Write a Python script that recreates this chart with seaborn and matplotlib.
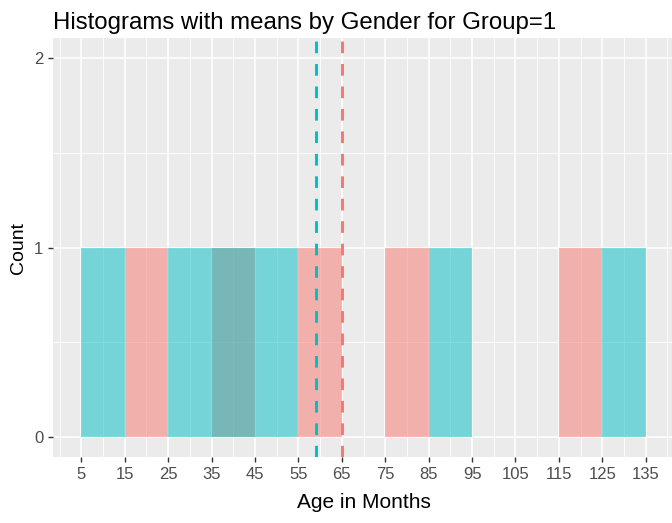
import pandas as pd
import seaborn as sns
import matplotlib.pyplot as plt
from matplotlib.ticker import MultipleLocator

# ages (months), one per bar
female_ages = [18, 42, 62, 80, 123]
male_ages = [10, 30, 40, 52, 92, 130]
genders = ['F', 'M']
bin_edges = list(range(5, 136, 10))
x_ticks = list(range(5, 136, 10))
y_ticks = [0, 1, 2]

df = pd.DataFrame({'Age': female_ages + male_ages,
                   'Gender': ['F'] * len(female_ages) + ['M'] * len(male_ages)})
means = df.groupby('Gender')['Age'].mean()

palette = {'F': '#F8766D', 'M': '#00BFC4'}

plt.rcParams['font.family'] = ['Liberation Sans', 'DejaVu Sans']

fig = plt.figure(figsize=(6.72, 5.23), dpi=100)
ax = fig.add_axes([53 / 672, (523 - 457) / 523, 621 / 672, 419 / 523])
ax.set_facecolor('#EBEBEB')

# grid like ggplot theme_grey
ax.xaxis.set_minor_locator(MultipleLocator(10))
ax.yaxis.set_minor_locator(MultipleLocator(0.5))
ax.grid(which='major', color='white', linewidth=1.1)
ax.grid(which='minor', color='white', linewidth=0.55)
ax.set_axisbelow(True)

for g in genders:
    sns.histplot(data=df[df.Gender == g], x='Age', bins=bin_edges,
                 color=palette[g], alpha=0.5, linewidth=0, ax=ax)

for g in genders:
    ax.axvline(means[g], color=palette[g], linewidth=2.1, dashes=(4, 3.7), zorder=5)

ax.set_xlim(-1.5, 141.5)
ax.set_ylim(-0.105, 2.105)
ax.set_xticks(x_ticks)
ax.set_yticks(y_ticks)
ax.tick_params(which='major', length=3.5, width=1, color='#333333',
               labelcolor='#4D4D4D', labelsize=12)
ax.tick_params(which='minor', length=0)
for s in ax.spines.values():
    s.set_visible(False)

ax.set_xlabel('Age in Months', fontsize=15, color='black', labelpad=8)
ax.set_ylabel('Count', fontsize=14, color='black', labelpad=5)
fig.text(53 / 672, 1 - 29 / 523, 'Histograms with means by Gender for Group=1',
         fontsize=17.3, color='black', ha='left', va='baseline')

fig.savefig('out.png', dpi=100)
